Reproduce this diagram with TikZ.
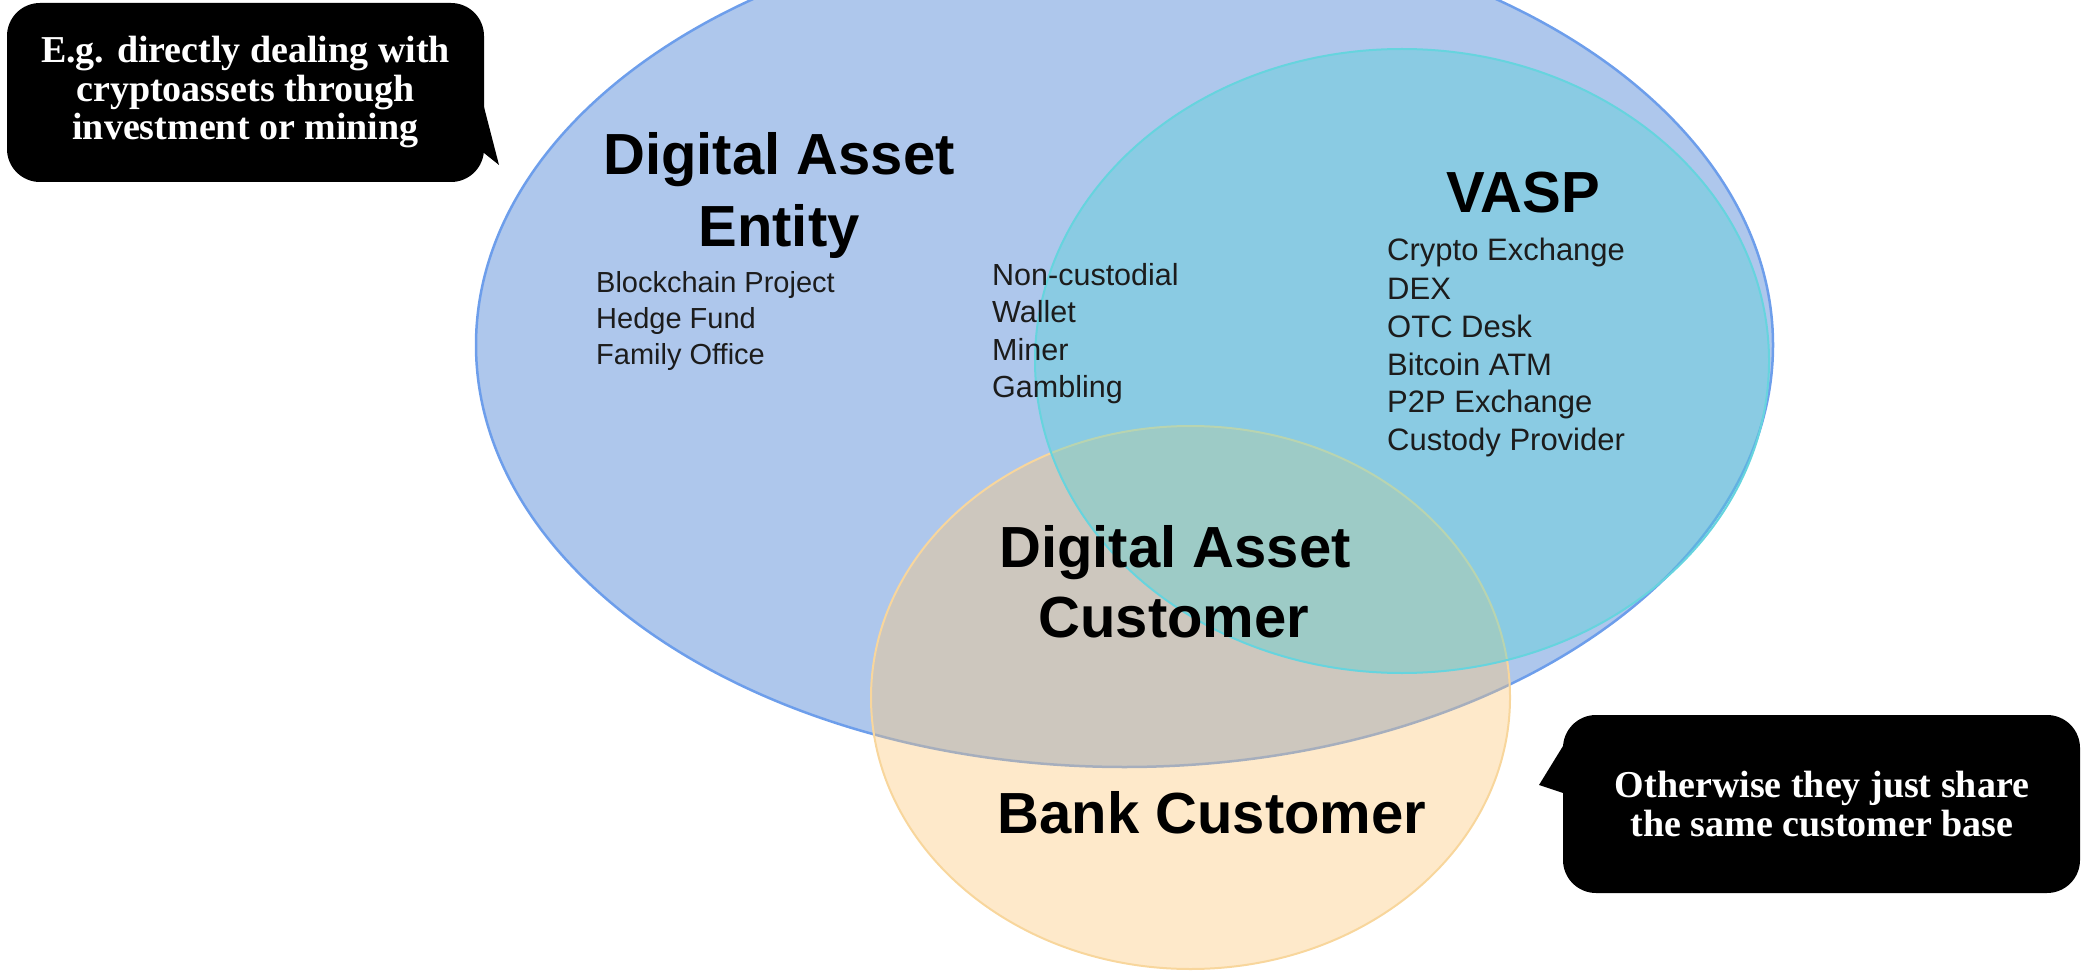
\documentclass[tikz,border=0pt]{standalone}
\usepackage{fontspec}
\newfontfamily\vennfont{Liberation Sans}
\newfontfamily\notefont{Liberation Serif}

\definecolor{entityfill}{RGB}{174,199,236}
\definecolor{entityline}{RGB}{109,158,235}
\definecolor{vaspfill}{RGB}{77,210,212}
\definecolor{vaspline}{RGB}{102,212,222}
\definecolor{bankfill}{RGB}{252,200,122}
\definecolor{bankline}{RGB}{248,214,156}
\definecolor{itemtext}{RGB}{28,28,28}

\begin{document}
\begin{tikzpicture}[x=1pt,y=-1pt,
  heading/.style={font=\vennfont\bfseries\fontsize{58}{58}\selectfont,
    inner sep=0pt, anchor=base},
  entry/.style={font=\vennfont\fontsize{#1}{#1}\selectfont, text=itemtext,
    inner sep=0pt, anchor=base west},
  entry/.default=30,
  note/.style={font=\notefont\bfseries\fontsize{38}{38}\selectfont,
    text=white, inner sep=0pt, anchor=base},
  bubble/.style={fill=black, rounded corners=33pt}
]
\useasboundingbox (0,0) rectangle (2082,973);
\clip (0,0) rectangle (2082,973);

% Venn circles: entities (bottom), bank customers, VASPs (top)
\filldraw[fill=entityfill, draw=entityline, line width=2.5pt]
  (1124.5,345) ellipse [x radius=648.5, y radius=422];
\filldraw[fill=bankfill, fill opacity=0.4, draw=bankline, line width=2pt]
  (1190.5,697.5) ellipse [x radius=319.5, y radius=271.5];
\filldraw[fill=vaspfill, fill opacity=0.37, draw=vaspline, line width=2pt]
  (1402,361) ellipse [x radius=367, y radius=312];

% Digital asset entity
\node[heading] (dae1) at (779,175) {Digital Asset};
\node[heading] (dae2) at (779,247) {Entity};
\node[entry=29] (daeA) at (596,292.5) {Blockchain Project};
\node[entry=29] (daeB) at (596,328.3) {Hedge Fund};
\node[entry=29] (daeC) at (596,364) {Family Office};

% Entities that are not VASPs themselves
\node[entry=30.5] (ncA) at (992,286) {Non-custodial};
\node[entry=30.5] (ncB) at (992,323) {Wallet};
\node[entry=30.5] (ncC) at (992,360.5) {Miner};
\node[entry=30.5] (ncD) at (992,397.5) {Gambling};

% VASP
\node[heading] (vasp) at (1523,213) {VASP};
\node[entry=31] (vaspA) at (1387,261) {Crypto Exchange};
\node[entry=31] (vaspB) at (1387,299.3) {DEX};
\node[entry=31] (vaspC) at (1387,337.3) {OTC Desk};
\node[entry=31] (vaspD) at (1387,375) {Bitcoin ATM};
\node[entry=31] (vaspE) at (1387,412.3) {P2P Exchange};
\node[entry=31] (vaspF) at (1387,450.7) {Custody Provider};

% Customers
\node[heading] (dac1) at (1175,567) {Digital Asset};
\node[heading] (dac2) at (1174,637) {Customer};
\node[heading] (bank) at (1212,833) {Bank Customer};

% Speech bubble, upper left
\fill[bubble] (7,3) rectangle (484,182);
\fill (476,107) -- (484,107) -- (499,165) -- (484,153) -- (476,153) -- cycle;
\node[note] (noteA1) at (245.5,63) {E.g. directly dealing with};
\node[note] (noteA2) at (245.5,102) {cryptoassets through};
\node[note] (noteA3) at (245.5,140) {investment or mining};

% Speech bubble, lower right
\fill[bubble] (1563,715) rectangle (2080,893);
\fill (1571,746) -- (1563,746) -- (1539,785) -- (1563,793) -- (1571,793) -- cycle;
\node[note] (noteB1) at (1822,797) {Otherwise they just share};
\node[note] (noteB2) at (1822,836) {the same customer base};
\end{tikzpicture}
\end{document}
